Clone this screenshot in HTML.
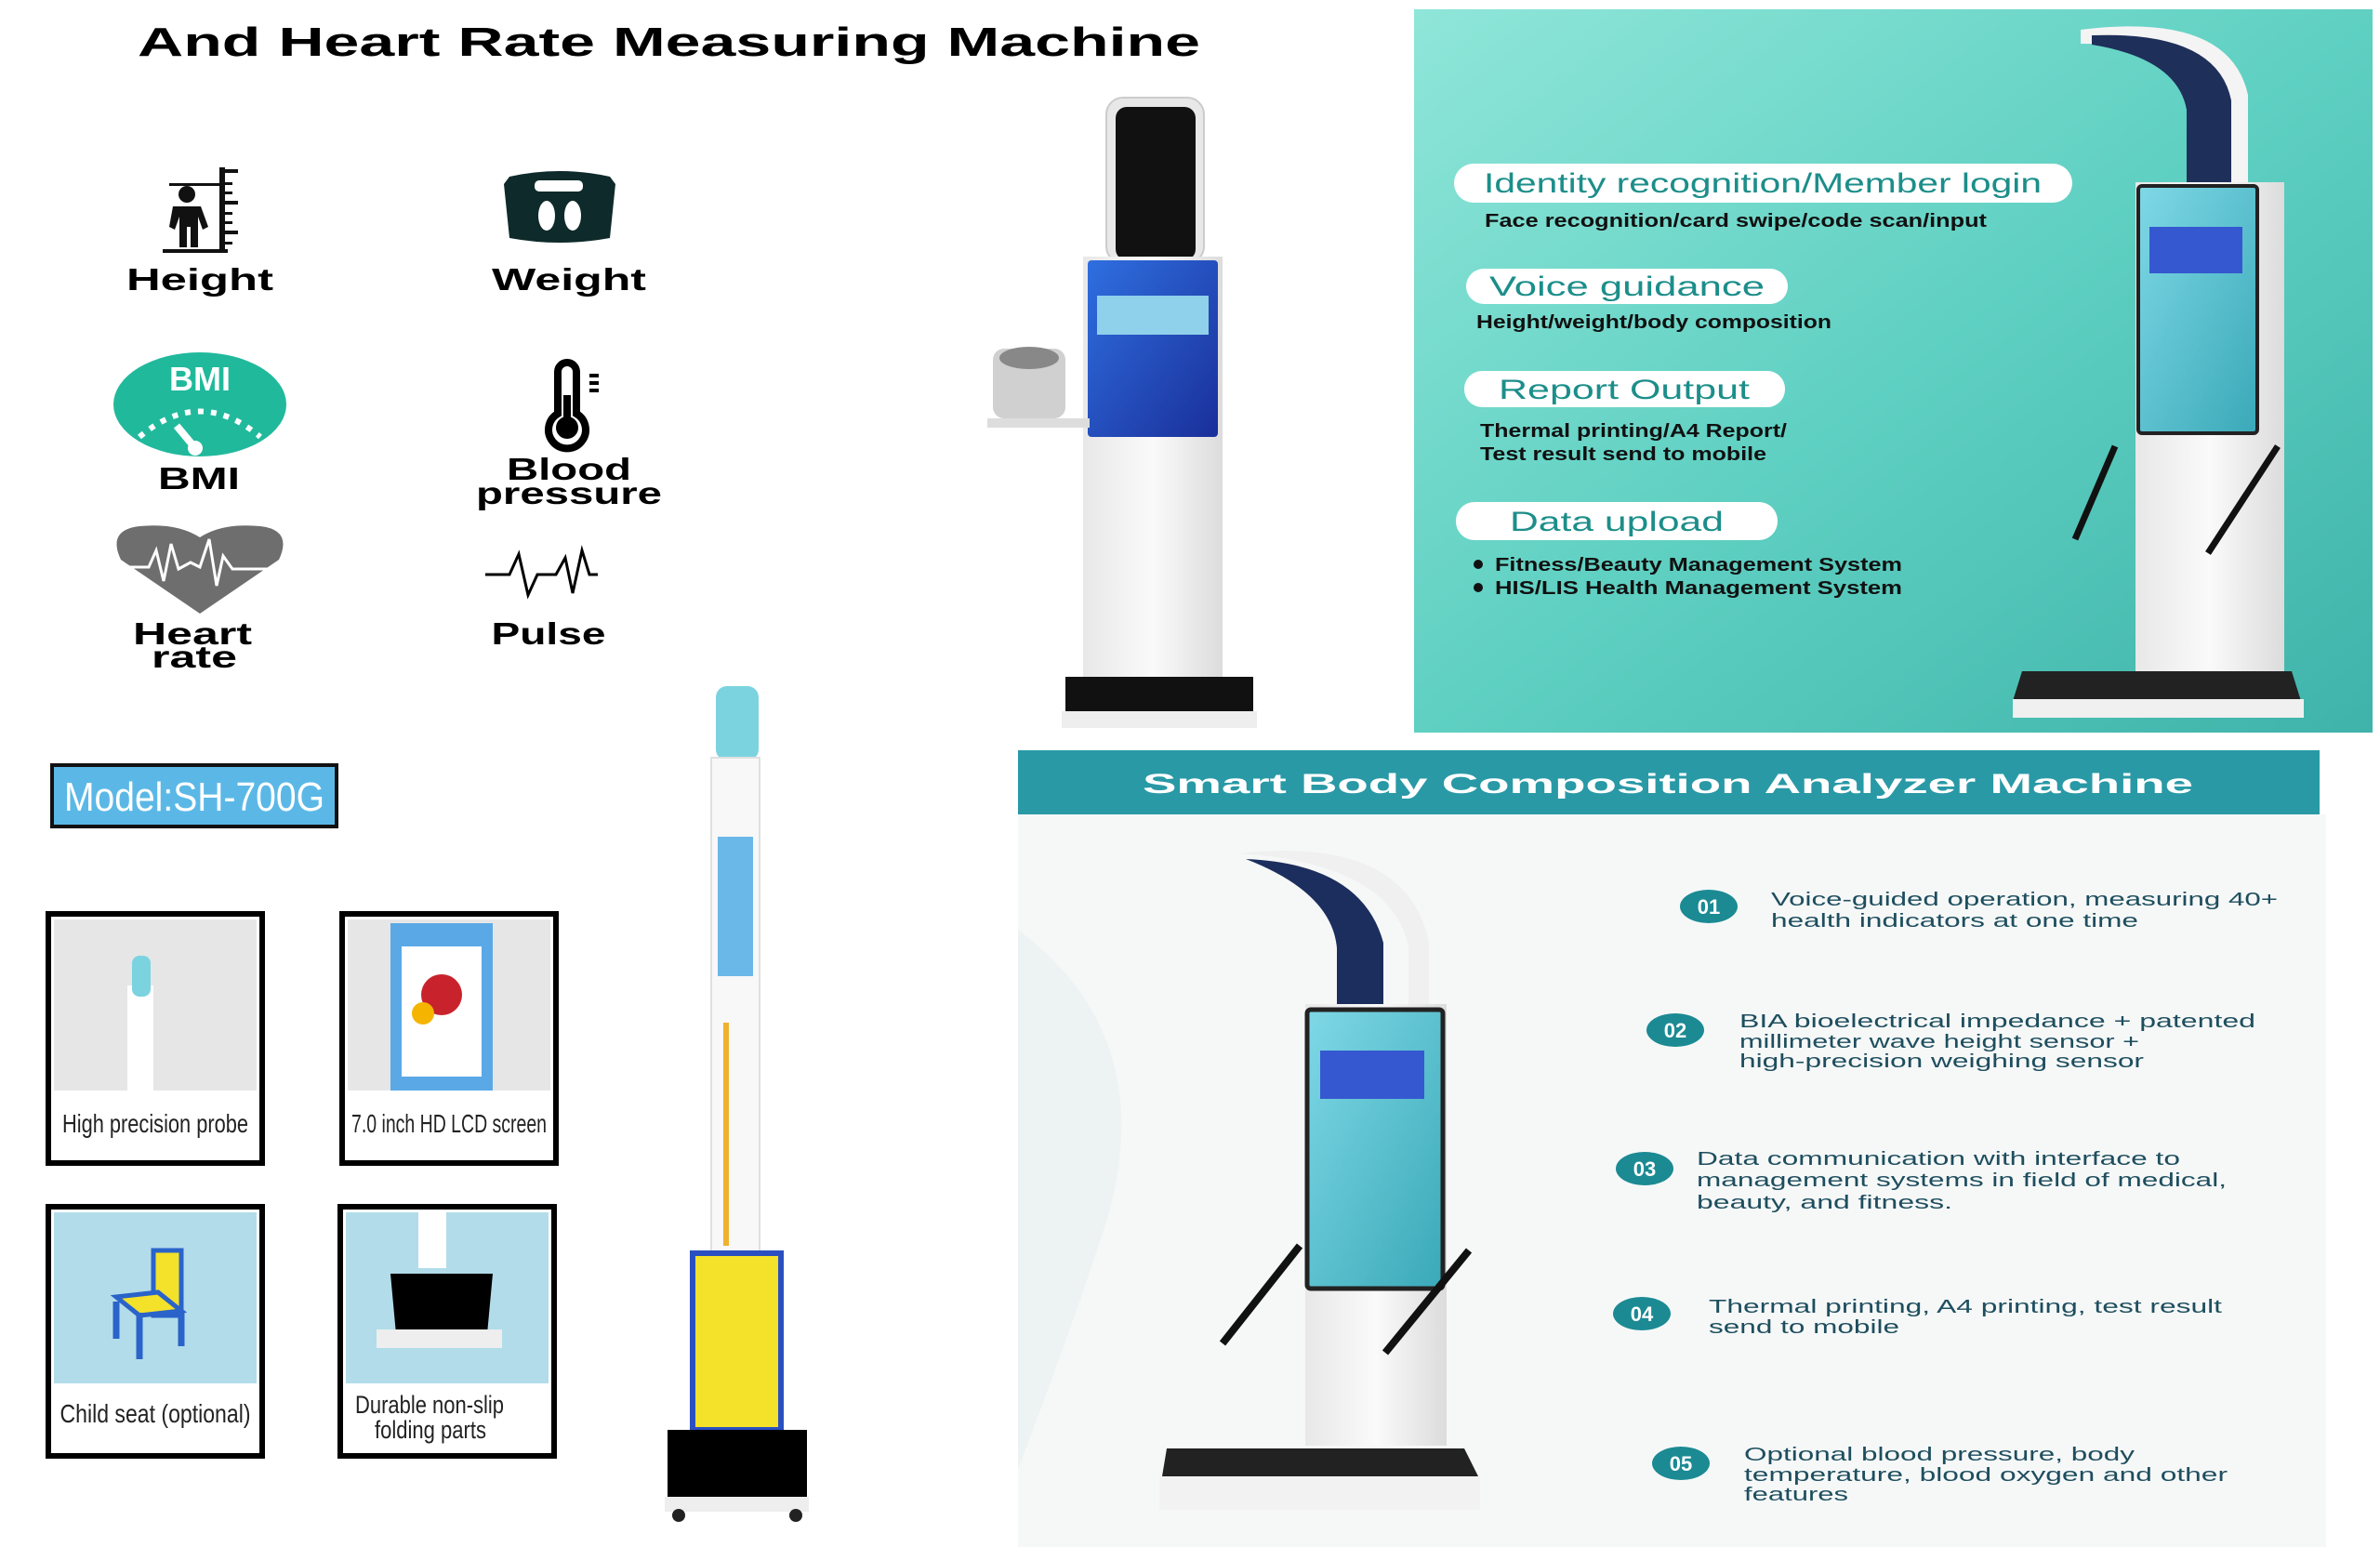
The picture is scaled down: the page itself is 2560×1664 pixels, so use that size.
<!DOCTYPE html>
<html><head><meta charset="utf-8"><style>
html,body{margin:0;padding:0;background:#fff;}
svg{display:block;}
text{font-family:"Liberation Sans",sans-serif;}
</style></head><body>
<svg width="2560" height="1664" viewBox="0 0 2560 1664" xmlns="http://www.w3.org/2000/svg">
<defs>
<linearGradient id="teal" x1="0" y1="0" x2="1" y2="1">
<stop offset="0" stop-color="#8fe6d9"/><stop offset="0.5" stop-color="#5fd0c2"/><stop offset="1" stop-color="#3fb3aa"/></linearGradient>
<linearGradient id="blu" x1="0" y1="0" x2="1" y2="1"><stop offset="0" stop-color="#2f6fe0"/><stop offset="1" stop-color="#1a2f9a"/></linearGradient>
<linearGradient id="scr" x1="0" y1="0" x2="1" y2="1"><stop offset="0" stop-color="#7fd8e6"/><stop offset="1" stop-color="#3aa9b8"/></linearGradient>
<linearGradient id="col" x1="0" y1="0" x2="1" y2="0"><stop offset="0" stop-color="#e8e8e8"/><stop offset="0.5" stop-color="#fafafa"/><stop offset="1" stop-color="#dcdcdc"/></linearGradient>
</defs>

<text x="148" y="60" font-size="44" font-weight="bold" textLength="1143" lengthAdjust="spacingAndGlyphs" fill="#000">And Heart Rate Measuring Machine</text>

<g fill="#111">
<rect x="236" y="180" width="6" height="92"/>
<rect x="242" y="182" width="14" height="4"/><rect x="242" y="196" width="8" height="3"/><rect x="242" y="206" width="8" height="3"/><rect x="242" y="216" width="14" height="4"/><rect x="242" y="228" width="8" height="3"/><rect x="242" y="238" width="8" height="3"/><rect x="242" y="248" width="14" height="4"/><rect x="242" y="260" width="8" height="3"/>
<rect x="175" y="268" width="70" height="4"/>
<rect x="182" y="197" width="54" height="3"/>
<circle cx="201" cy="209" r="9"/>
<path d="M186 222 h30 l8 22 -6 3 -5 -14 v33 h-8 v-22 h-4 v22 h-8 v-33 l-5 14 -6 -3z"/>
</g>
<path d="M548 190 q54 -12 108 0 l6 8 -6 58 q-54 10 -108 0 l-6 -58z" fill="#0f2a2a"/>
<rect x="575" y="194" width="52" height="12" rx="5" fill="#fff"/>
<ellipse cx="588" cy="232" rx="9" ry="16" fill="#fff"/><ellipse cx="616" cy="232" rx="9" ry="16" fill="#fff"/>
<g font-weight="bold" fill="#000" text-anchor="middle" font-size="33">
<text x="215" y="312" textLength="158" lengthAdjust="spacingAndGlyphs">Height</text>
<text x="612" y="312" textLength="166" lengthAdjust="spacingAndGlyphs">Weight</text>
<text x="214" y="526" textLength="88" lengthAdjust="spacingAndGlyphs">BMI</text>
<text x="612" y="516" textLength="134" lengthAdjust="spacingAndGlyphs">Blood</text>
<text x="612" y="542" textLength="200" lengthAdjust="spacingAndGlyphs">pressure</text>
<text x="207" y="693" textLength="128" lengthAdjust="spacingAndGlyphs">Heart</text>
<text x="209" y="718" textLength="92" lengthAdjust="spacingAndGlyphs">rate</text>
<text x="590" y="693" textLength="123" lengthAdjust="spacingAndGlyphs">Pulse</text>
</g>
<ellipse cx="215" cy="435" rx="93" ry="56" fill="#21b99c"/>
<text x="215" y="420" font-size="36" font-weight="bold" fill="#fff" text-anchor="middle">BMI</text>
<path d="M150 470 q65 -55 130 0" stroke="#fff" stroke-width="6" fill="none" stroke-dasharray="6 8"/>
<line x1="190" y1="458" x2="210" y2="482" stroke="#fff" stroke-width="8"/><circle cx="210" cy="482" r="8" fill="#fff"/>
<path d="M600 400 a10 10 0 0 1 20 0 v45 a20 20 0 1 1 -20 0z" fill="none" stroke="#000" stroke-width="8"/>
<circle cx="610" cy="460" r="12" fill="#000"/><rect x="606" y="425" width="8" height="30" fill="#000"/>
<rect x="634" y="402" width="10" height="4"/><rect x="634" y="410" width="10" height="4"/><rect x="634" y="418" width="10" height="4"/>
<path d="M215 660 L130 602 Q115 570 150 566 Q190 562 215 578 Q240 562 280 566 Q315 570 300 602z" fill="#6e6e6e"/>
<polyline points="128,610 160,610 168,592 176,625 184,585 192,612 205,605 215,610 225,580 233,630 240,598 250,612 290,612" fill="none" stroke="#fff" stroke-width="3"/>
<polyline points="522,618 548,618 558,596 568,640 578,618 598,618 608,600 616,638 626,592 634,618 643,618" fill="none" stroke="#000" stroke-width="3"/>

<rect x="56" y="823" width="306" height="66" fill="#5bb8e6" stroke="#111" stroke-width="4"/>
<text x="209" y="872" font-size="44" fill="#fff" text-anchor="middle" textLength="280" lengthAdjust="spacingAndGlyphs">Model:SH-700G</text>

<g>
<rect x="52" y="983" width="230" height="268" fill="#fff" stroke="#000" stroke-width="6"/>
<rect x="58" y="989" width="218" height="184" fill="#e6e6e6"/>
<rect x="137" y="1060" width="28" height="113" fill="#fff"/><rect x="142" y="1028" width="20" height="44" rx="8" fill="#7cd3e0"/>
<text x="167" y="1218" font-size="28" text-anchor="middle" textLength="200" lengthAdjust="spacingAndGlyphs" fill="#222">High precision probe</text>

<rect x="368" y="983" width="230" height="268" fill="#fff" stroke="#000" stroke-width="6"/>
<rect x="374" y="989" width="218" height="184" fill="#e6e6e6"/>
<rect x="420" y="993" width="110" height="180" fill="#5aa9e6"/><rect x="432" y="1018" width="86" height="140" fill="#fff"/>
<circle cx="475" cy="1070" r="22" fill="#c8232c"/><circle cx="455" cy="1090" r="12" fill="#f5b400"/>
<text x="483" y="1218" font-size="28" text-anchor="middle" textLength="210" lengthAdjust="spacingAndGlyphs" fill="#222">7.0 inch HD LCD screen</text>

<rect x="52" y="1298" width="230" height="268" fill="#fff" stroke="#000" stroke-width="6"/>
<rect x="58" y="1304" width="218" height="184" fill="#b2dcea"/>
<path d="M165 1345 h30 v70 h-30z" fill="#f4e12a" stroke="#2a63c9" stroke-width="5"/>
<path d="M125 1395 l45 -5 25 20 -45 5z" fill="#f4e12a" stroke="#2a63c9" stroke-width="5"/>
<line x1="125" y1="1400" x2="125" y2="1440" stroke="#2a63c9" stroke-width="7"/><line x1="150" y1="1412" x2="150" y2="1462" stroke="#2a63c9" stroke-width="7"/><line x1="195" y1="1410" x2="195" y2="1448" stroke="#2a63c9" stroke-width="7"/>
<text x="167" y="1530" font-size="28" text-anchor="middle" textLength="205" lengthAdjust="spacingAndGlyphs" fill="#222">Child seat  (optional)</text>

<rect x="366" y="1298" width="230" height="268" fill="#fff" stroke="#000" stroke-width="6"/>
<rect x="372" y="1304" width="218" height="184" fill="#b2dcea"/>
<rect x="450" y="1304" width="30" height="60" fill="#fff"/>
<path d="M420 1370 h110 l-6 65 h-98z" fill="#000"/><rect x="405" y="1430" width="135" height="20" fill="#eee"/>
<text x="462" y="1520" font-size="27" text-anchor="middle" textLength="160" lengthAdjust="spacingAndGlyphs" fill="#222">Durable non-slip</text>
<text x="463" y="1547" font-size="27" text-anchor="middle" textLength="120" lengthAdjust="spacingAndGlyphs" fill="#222">folding parts</text>
</g>

<rect x="770" y="738" width="46" height="80" rx="12" fill="#7cd3e0"/>
<rect x="765" y="815" width="52" height="725" fill="#f8f8f8" stroke="#e0e0e0" stroke-width="2"/>
<rect x="772" y="900" width="38" height="150" fill="#6ab8e8"/>
<rect x="778" y="1100" width="6" height="240" fill="#f0b030"/>
<rect x="745" y="1348" width="95" height="190" fill="#f4e12a" stroke="#2a4fc0" stroke-width="6"/>
<rect x="718" y="1538" width="150" height="75" fill="#000"/>
<rect x="715" y="1610" width="155" height="16" fill="#eee"/>
<circle cx="730" cy="1630" r="7" fill="#222"/><circle cx="856" cy="1630" r="7" fill="#222"/>

<rect x="1190" y="105" width="105" height="178" rx="18" fill="#e8e8e8" stroke="#ccc" stroke-width="2"/>
<rect x="1200" y="115" width="86" height="165" rx="12" fill="#111"/>
<rect x="1165" y="276" width="150" height="460" fill="url(#col)"/>
<rect x="1170" y="280" width="140" height="190" rx="4" fill="url(#blu)"/>
<rect x="1180" y="318" width="120" height="42" fill="#8fd0ea"/>
<rect x="1068" y="375" width="78" height="75" rx="12" fill="#d0d0d0"/><ellipse cx="1107" cy="385" rx="32" ry="12" fill="#888"/>
<rect x="1062" y="450" width="110" height="10" fill="#ddd"/>
<rect x="1146" y="728" width="202" height="42" fill="#111"/>
<rect x="1142" y="765" width="210" height="18" fill="#eee"/>

<rect x="1521" y="10" width="1031" height="778" fill="url(#teal)"/>
<g>
<rect x="1564" y="176" width="665" height="42" rx="21" fill="#fff"/>
<text x="1896" y="207" font-size="30" fill="#1c8e8a" text-anchor="middle" textLength="600" lengthAdjust="spacingAndGlyphs">Identity recognition/Member login</text>
<text x="1597" y="244" font-size="20" font-weight="bold" fill="#111" textLength="540" lengthAdjust="spacingAndGlyphs">Face recognition/card swipe/code scan/input</text>
<rect x="1577" y="289" width="346" height="38" rx="19" fill="#fff"/>
<text x="1750" y="318" font-size="30" fill="#1c8e8a" text-anchor="middle" textLength="296" lengthAdjust="spacingAndGlyphs">Voice guidance</text>
<text x="1588" y="353" font-size="20" font-weight="bold" fill="#111" textLength="382" lengthAdjust="spacingAndGlyphs">Height/weight/body composition</text>
<rect x="1575" y="399" width="345" height="39" rx="19" fill="#fff"/>
<text x="1747" y="429" font-size="30" fill="#1c8e8a" text-anchor="middle" textLength="270" lengthAdjust="spacingAndGlyphs">Report Output</text>
<text x="1592" y="470" font-size="20" font-weight="bold" fill="#111" textLength="330" lengthAdjust="spacingAndGlyphs">Thermal printing/A4 Report/</text>
<text x="1592" y="495" font-size="20" font-weight="bold" fill="#111" textLength="308" lengthAdjust="spacingAndGlyphs">Test result send to mobile</text>
<rect x="1566" y="540" width="346" height="41" rx="20" fill="#fff"/>
<text x="1739" y="571" font-size="30" fill="#1c8e8a" text-anchor="middle" textLength="230" lengthAdjust="spacingAndGlyphs">Data upload</text>
<circle cx="1590" cy="607" r="5" fill="#111"/><circle cx="1590" cy="632" r="5" fill="#111"/>
<text x="1608" y="614" font-size="20" font-weight="bold" fill="#111" textLength="438" lengthAdjust="spacingAndGlyphs">Fitness/Beauty Management System</text>
<text x="1608" y="639" font-size="20" font-weight="bold" fill="#111" textLength="438" lengthAdjust="spacingAndGlyphs">HIS/LIS Health Management System</text>
</g>
<path d="M2238 32 q160 -20 180 70 v195 h-40 v-190 q-10 -60 -140 -60z" fill="#f4f4f4"/>
<path d="M2250 38 q135 -5 150 70 v190 h-48 v-180 q-10 -55 -102 -70z" fill="#1e2f5a"/>
<rect x="2297" y="196" width="160" height="540" fill="url(#col)"/>
<rect x="2300" y="200" width="128" height="266" rx="4" fill="url(#scr)" stroke="#222" stroke-width="4"/>
<rect x="2312" y="244" width="100" height="50" fill="#3558d0"/>
<line x1="2275" y1="480" x2="2232" y2="580" stroke="#111" stroke-width="7"/>
<line x1="2450" y1="480" x2="2375" y2="595" stroke="#111" stroke-width="7"/>
<path d="M2175 722 h290 l10 32 h-310z" fill="#222"/>
<rect x="2165" y="752" width="313" height="20" fill="#f0f0f0"/>

<rect x="1095" y="876" width="1407" height="788" fill="#f6f8f8"/>
<path d="M1095 1000 q160 120 90 330 q-40 120 -90 250z" fill="#edf2f2"/>
<rect x="1095" y="807" width="1400" height="69" fill="#2999a6"/>
<text x="1794" y="853" font-size="30" font-weight="bold" fill="#fff" text-anchor="middle" textLength="1130" lengthAdjust="spacingAndGlyphs">Smart Body Composition Analyzer Machine</text>

<path d="M1332 918 q180 -20 205 95 v115 h-22 v-110 q-20 -90 -183 -100z" fill="#f0f0f0"/>
<path d="M1340 924 q125 5 148 90 v106 h-50 v-100 q-5 -60 -98 -96z" fill="#1c2e5e"/>
<rect x="1404" y="1080" width="152" height="475" fill="url(#col)"/>
<rect x="1406" y="1086" width="146" height="300" rx="4" fill="url(#scr)" stroke="#222" stroke-width="5"/>
<rect x="1420" y="1130" width="112" height="52" fill="#3558d0"/>
<line x1="1398" y1="1340" x2="1315" y2="1445" stroke="#111" stroke-width="8"/>
<line x1="1580" y1="1345" x2="1490" y2="1455" stroke="#111" stroke-width="8"/>
<path d="M1255 1558 h320 l15 30 h-340z" fill="#222"/>
<rect x="1247" y="1588" width="345" height="36" fill="#f2f2f2"/>

<g font-size="20" fill="#1e4e5e">
<ellipse cx="1838" cy="975" rx="31" ry="18" fill="#1b8a93"/><text x="1838" y="983" font-size="22" font-weight="bold" fill="#fff" text-anchor="middle">01</text>
<text x="1905" y="974" textLength="545" lengthAdjust="spacingAndGlyphs">Voice-guided operation, measuring 40+</text>
<text x="1905" y="997" textLength="395" lengthAdjust="spacingAndGlyphs">health indicators at one time</text>
<ellipse cx="1802" cy="1108" rx="31" ry="18" fill="#1b8a93"/><text x="1802" y="1116" font-size="22" font-weight="bold" fill="#fff" text-anchor="middle">02</text>
<text x="1871" y="1105" textLength="555" lengthAdjust="spacingAndGlyphs">BIA bioelectrical impedance  + patented</text>
<text x="1871" y="1127" textLength="430" lengthAdjust="spacingAndGlyphs">millimeter wave height sensor +</text>
<text x="1871" y="1148" textLength="435" lengthAdjust="spacingAndGlyphs">high-precision weighing sensor</text>
<ellipse cx="1769" cy="1257" rx="31" ry="18" fill="#1b8a93"/><text x="1769" y="1265" font-size="22" font-weight="bold" fill="#fff" text-anchor="middle">03</text>
<text x="1825" y="1253" textLength="520" lengthAdjust="spacingAndGlyphs">Data communication with interface to</text>
<text x="1825" y="1276" textLength="570" lengthAdjust="spacingAndGlyphs">management systems in field of medical,</text>
<text x="1825" y="1300" textLength="275" lengthAdjust="spacingAndGlyphs">beauty, and fitness.</text>
<ellipse cx="1766" cy="1413" rx="31" ry="18" fill="#1b8a93"/><text x="1766" y="1421" font-size="22" font-weight="bold" fill="#fff" text-anchor="middle">04</text>
<text x="1838" y="1412" textLength="552" lengthAdjust="spacingAndGlyphs">Thermal printing, A4 printing, test result</text>
<text x="1838" y="1434" textLength="205" lengthAdjust="spacingAndGlyphs">send to mobile</text>
<ellipse cx="1808" cy="1574" rx="31" ry="18" fill="#1b8a93"/><text x="1808" y="1582" font-size="22" font-weight="bold" fill="#fff" text-anchor="middle">05</text>
<text x="1876" y="1571" textLength="420" lengthAdjust="spacingAndGlyphs">Optional blood pressure, body</text>
<text x="1876" y="1593" textLength="520" lengthAdjust="spacingAndGlyphs">temperature, blood oxygen and other</text>
<text x="1876" y="1614" textLength="112" lengthAdjust="spacingAndGlyphs">features</text>
</g>
</svg>
</body></html>
